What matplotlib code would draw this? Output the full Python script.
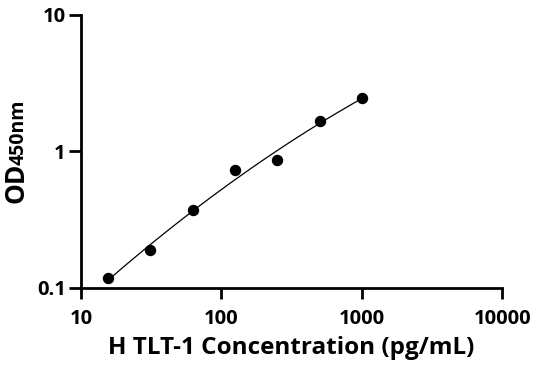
import numpy as np
import matplotlib
matplotlib.use("Agg")
import matplotlib.pyplot as plt
from matplotlib.ticker import FixedLocator, NullLocator

conc = [15.625, 31.25, 62.5, 125, 250, 500, 1000]
od = [0.118, 0.19, 0.37, 0.73, 0.86, 1.67, 2.45]
xticks = [10, 100, 1000, 10000]
xticklabels = ["10", "100", "1000", "10000"]
yticks = [0.1, 1, 10]
yticklabels = ["0.1", "1", "10"]

plt.rcParams['font.family'] = ['Open Sans', 'DejaVu Sans']
plt.rcParams['font.weight'] = 'bold'

fig = plt.figure(figsize=(5.36, 3.71), dpi=100)
ax = fig.add_axes([0.151, 0.224, 0.786, 0.736])

lx = np.log10(conc)
ly = np.log10(od)
coef = np.polyfit(lx, ly, 2)
xs = np.linspace(lx.min(), lx.max(), 200)
ax.plot(10**xs, 10**np.polyval(coef, xs), color='black', lw=0.9)
ax.plot(conc, od, 'o', color='black', ms=7.2)

ax.set_xscale('log')
ax.set_yscale('log')
ax.set_xlim(10, 10000)
ax.set_ylim(0.1, 10)
ax.xaxis.set_major_locator(FixedLocator(xticks))
ax.yaxis.set_major_locator(FixedLocator(yticks))
ax.xaxis.set_minor_locator(NullLocator())
ax.yaxis.set_minor_locator(NullLocator())
ax.set_xticklabels(xticklabels, fontsize=14.5, fontweight='bold')
ax.set_yticklabels(yticklabels, fontsize=14.5, fontweight='bold')
ax.tick_params(axis='x', which='major', length=8, width=2, direction='out', pad=7)
ax.tick_params(axis='y', which='major', length=9, width=2, direction='out', pad=2)
for s in ['top', 'right']:
    ax.spines[s].set_visible(False)
for s in ['left', 'bottom']:
    ax.spines[s].set_linewidth(2)

ax.set_xlabel("H TLT-1 Concentration (pg/mL)", fontsize=17.5, fontweight='bold', labelpad=5)

fig.text(0.030, 0.562, "OD", rotation=90, fontsize=19, fontweight='bold', ha='center', va='top')
fig.text(0.034, 0.554, "450nm", rotation=90, fontsize=14, fontweight='bold', ha='center', va='bottom')

fig.savefig("out.png", dpi=100)
